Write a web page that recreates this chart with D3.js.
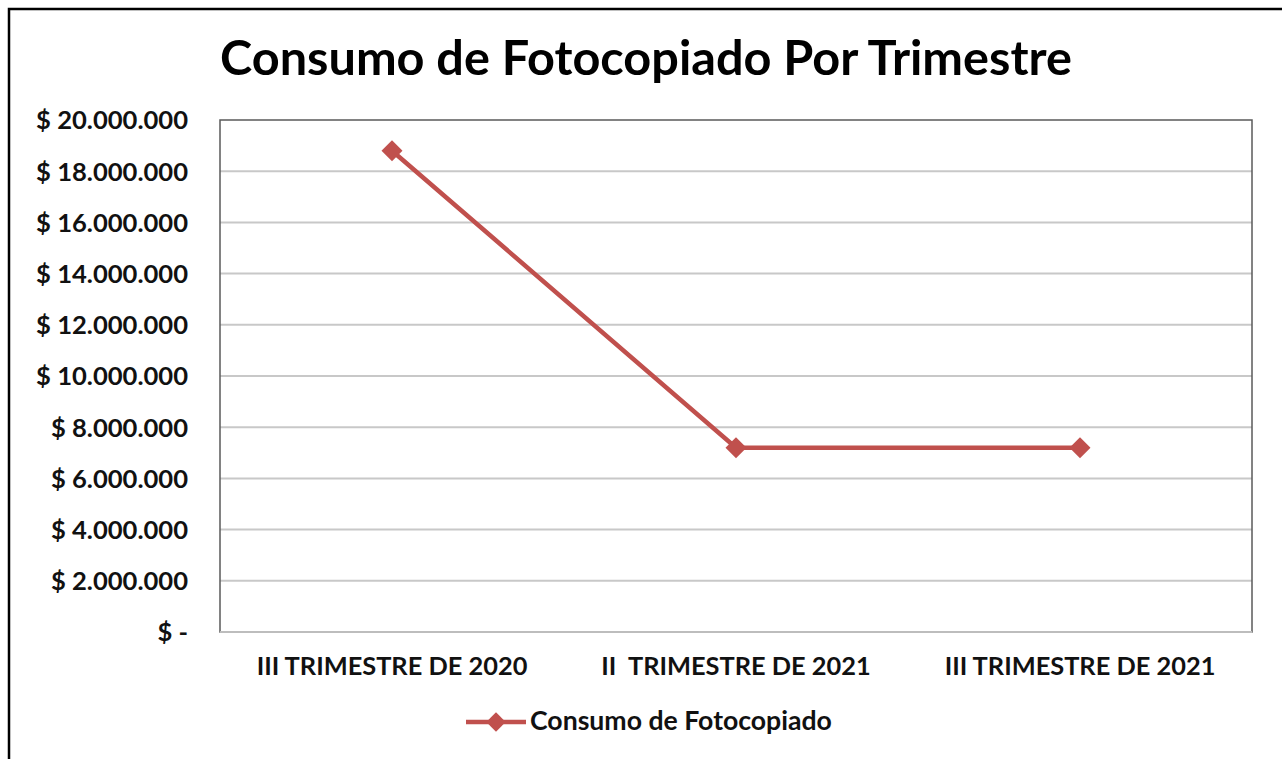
<!DOCTYPE html>
<html>
<head>
<meta charset="utf-8">
<script src="https://cdn.jsdelivr.net/npm/d3@7"></script>
<style>
  body { margin: 0; background: #fff; }
  svg { display: block; font-family: Lato, "Open Sans", sans-serif; }
</style>
</head>
<body>
<div id="chart"></div>
<script>
// data
const quarters = ["III TRIMESTRE DE 2020", "II  TRIMESTRE DE 2021", "III TRIMESTRE DE 2021"];
const consumo = [18800000, 7200000, 7200000];
const yTicks = [0, 2000000, 4000000, 6000000, 8000000, 10000000, 12000000, 14000000, 16000000, 18000000, 20000000];
const seriesName = "Consumo de Fotocopiado";
const title = "Consumo de Fotocopiado Por Trimestre";

const width = 1282, height = 759;
const margin = { top: 120, right: 30, bottom: 127, left: 220 };
const red = "#c0504d";
const font = "Lato, 'Open Sans', sans-serif";

const svg = d3.select("#chart").append("svg")
    .attr("width", width)
    .attr("height", height);

// outer chart frame (only left and top edges show)
svg.append("path")
   .attr("d", `M9,${height} V9 H${width}`)
   .attr("fill", "none")
   .attr("stroke", "#000")
   .attr("stroke-width", 2.5);

// scale font size so a text gets a target width
function fit(sel, target) {
    const w = sel.node().getComputedTextLength();
    const fs = parseFloat(sel.style("font-size"));
    sel.style("font-size", (fs * target / w) + "px");
}

const t = svg.append("text")
   .attr("x", 646)
   .attr("y", 75)
   .attr("text-anchor", "middle")
   .style("font-size", "40px")
   .style("font-weight", 700)
   .text(title);
fit(t, 852);

const x = d3.scaleBand()
    .domain(quarters)
    .range([margin.left, width - margin.right]);

const y = d3.scaleLinear()
    .domain([0, 20000000])
    .range([height - margin.bottom, margin.top]);

// gridlines
svg.append("g")
   .selectAll("line")
   .data(yTicks.slice(1, -1))
   .join("line")
   .attr("x1", margin.left)
   .attr("x2", width - margin.right)
   .attr("y1", d => y(d))
   .attr("y2", d => y(d))
   .attr("stroke", "#c8c8c8")
   .attr("stroke-width", 2);

// plot frame
svg.append("rect")
   .attr("x", margin.left)
   .attr("y", margin.top)
   .attr("width", width - margin.right - margin.left)
   .attr("height", height - margin.bottom - margin.top)
   .attr("fill", "none")
   .attr("stroke", "#5a5a5a")
   .attr("stroke-width", 1.5);
svg.append("line")
   .attr("x1", margin.left).attr("x2", width - margin.right)
   .attr("y1", y(0)).attr("y2", y(0))
   .attr("stroke", "#bdbdbd").attr("stroke-width", 2);

const fmt = d => d === 0 ? "$ -" : "$ " + d3.format(",")(d).replace(/,/g, ".");

// y axis labels
const yAxis = svg.append("g")
   .attr("transform", `translate(${margin.left - 32},0)`)
   .call(d3.axisLeft(y).tickValues(yTicks).tickFormat(fmt).tickSize(0).tickPadding(0))
   .attr("font-family", font);
yAxis.select(".domain").remove();
yAxis.selectAll("text")
   .attr("fill", "#111")
   .style("font-size", "21px")
   .style("font-weight", 700)
   .attr("dy", "0.35em");
{
    const top = yAxis.selectAll("text").filter(d => d === 20000000);
    const w = top.node().getComputedTextLength();
    yAxis.selectAll("text").style("font-size", (21 * 152 / w) + "px");
}

// x axis labels
const xAxis = svg.append("g")
   .attr("transform", `translate(0,${y(0)})`)
   .call(d3.axisBottom(x).tickSize(0).tickPadding(0))
   .attr("font-family", font);
xAxis.select(".domain").remove();
xAxis.selectAll("text")
   .attr("fill", "#111")
   .attr("y", 43)
   .attr("dy", 0)
   .style("font-size", "20px")
   .style("font-weight", 700)
   .style("white-space", "pre");
{
    const first = xAxis.select(".tick text");
    const w = first.node().getComputedTextLength();
    xAxis.selectAll("text").style("font-size", (20 * 271 / w) + "px");
}

// series line
const line = d3.line()
    .x((d, i) => x(quarters[i]) + x.bandwidth() / 2)
    .y(d => y(d));

svg.append("path")
   .datum(consumo)
   .attr("d", line)
   .attr("fill", "none")
   .attr("stroke", red)
   .attr("stroke-width", 4.5);

const diamond = d3.symbol().type(d3.symbolDiamond2).size(280);

svg.append("g")
   .selectAll("path")
   .data(consumo)
   .join("path")
   .attr("transform", (d, i) => `translate(${x(quarters[i]) + x.bandwidth() / 2},${y(d)})`)
   .attr("d", diamond)
   .attr("fill", red);

// legend
const lg = svg.append("g").attr("transform", "translate(466,722)");
lg.append("line")
  .attr("x1", 0).attr("x2", 60)
  .attr("stroke", red).attr("stroke-width", 4.5);
lg.append("path")
  .attr("transform", "translate(30,0)")
  .attr("d", d3.symbol().type(d3.symbolDiamond2).size(240))
  .attr("fill", red);
const lt = lg.append("text")
  .attr("x", 64)
  .attr("y", 8)
  .attr("fill", "#111")
  .style("font-size", "21px")
  .style("font-weight", 700)
  .text(seriesName);
fit(lt, 302);
</script>
</body>
</html>
